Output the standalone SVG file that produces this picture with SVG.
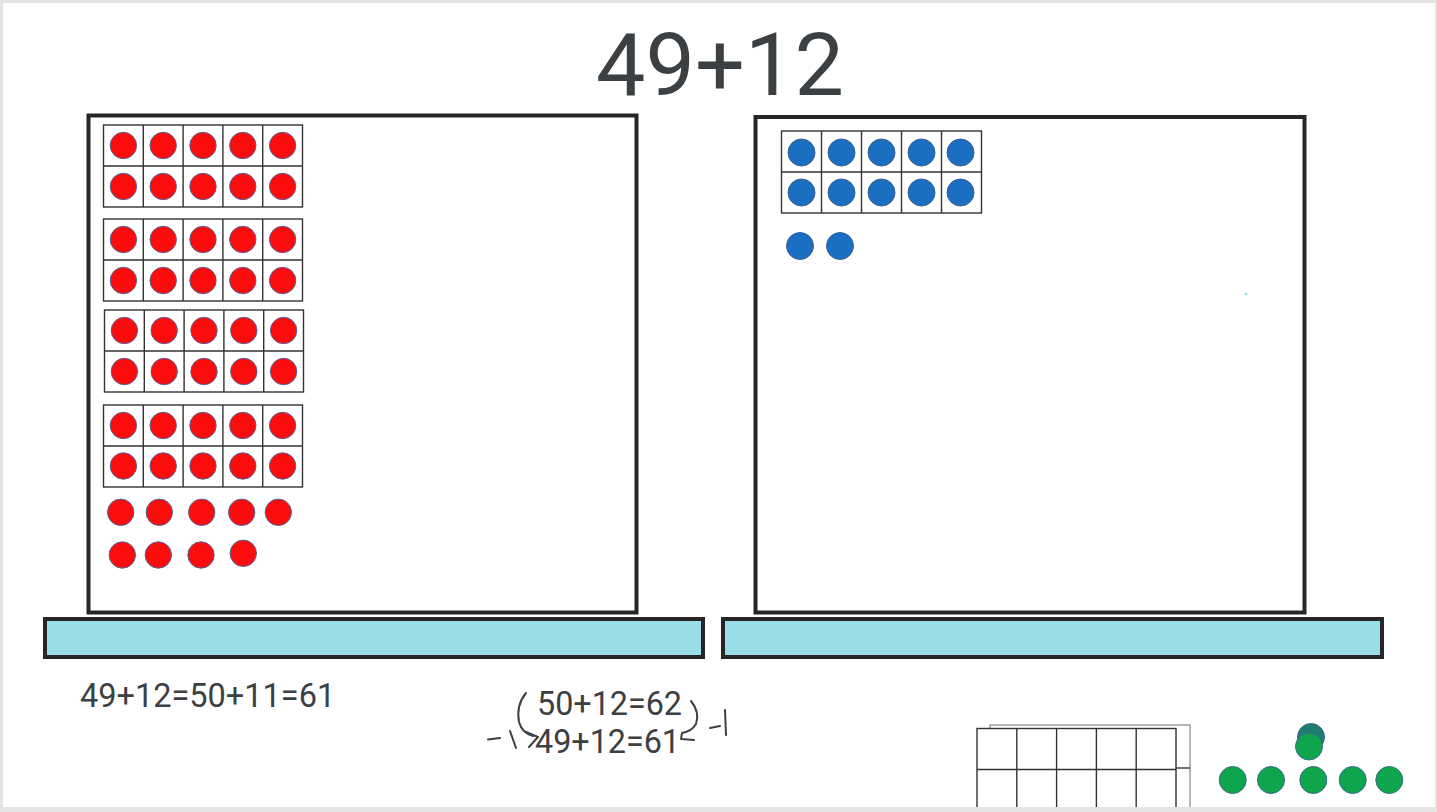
<svg xmlns="http://www.w3.org/2000/svg" xmlns:xlink="http://www.w3.org/1999/xlink" width="1437" height="812" viewBox="0 0 1437 812">
<style>
.txt{font-family:Roboto,"Liberation Sans",sans-serif;fill:#3c4043}
.box{fill:#fff;stroke:#262626;stroke-width:4}
.bar{fill:#99dde6;stroke:#262626;stroke-width:4}
.tf{fill:#fff;stroke:#333;stroke-width:1.4}
.tl{stroke:#333;stroke-width:1.4;fill:none}
.red{fill:#fb0d0d;stroke:#56609a;stroke-width:1}
.blue{fill:#1a6fc2;stroke:#3d5f98;stroke-width:1}
.green{fill:#0fa54c;stroke:#3a6a8a;stroke-width:1}
.hand{fill:none;stroke:#3c4043;stroke-width:2;stroke-linecap:round;stroke-linejoin:round}
</style>
<defs>
<g id="tf10">
<rect class="tf" x="0" y="0" width="199" height="82"/>
<path class="tl" d="M0 41H199M39.8 0V82M79.6 0V82M119.4 0V82M159.2 0V82"/>
</g>
<circle id="rd" class="red" r="13.2"/>
<circle id="bd" class="blue" r="13.5"/>
<circle id="gd" class="green" r="13.5"/>
</defs>
<rect x="0" y="0" width="1437" height="812" fill="#e3e4e6"/>
<rect x="3" y="3" width="1432" height="804" fill="#fff"/>

<g id="title"><text class="txt" x="720" y="95" font-size="88" text-anchor="middle">49+12</text></g>

<g id="left-board">
<rect class="box" x="88.5" y="115.5" width="548" height="497"/>
<rect class="bar" x="45" y="619" width="658" height="38"/>
</g>
<g id="right-board">
<rect class="box" x="755.5" y="117" width="549" height="495.5"/>
<rect class="bar" x="723" y="619" width="659" height="38"/>
<circle cx="1246" cy="294" r="1.2" fill="#7fd6e6"/>
</g>

<g id="red-frame-1">
<use xlink:href="#tf10" x="103.5" y="125"/>
<use xlink:href="#rd" x="123.4" y="145.5"/><use xlink:href="#rd" x="163.2" y="145.5"/><use xlink:href="#rd" x="203" y="145.5"/><use xlink:href="#rd" x="242.8" y="145.5"/><use xlink:href="#rd" x="282.6" y="145.5"/>
<use xlink:href="#rd" x="123.4" y="186.5"/><use xlink:href="#rd" x="163.2" y="186.5"/><use xlink:href="#rd" x="203" y="186.5"/><use xlink:href="#rd" x="242.8" y="186.5"/><use xlink:href="#rd" x="282.6" y="186.5"/>
</g>
<g id="red-frame-2">
<use xlink:href="#tf10" x="103.5" y="219"/>
<use xlink:href="#rd" x="123.4" y="239.5"/><use xlink:href="#rd" x="163.2" y="239.5"/><use xlink:href="#rd" x="203" y="239.5"/><use xlink:href="#rd" x="242.8" y="239.5"/><use xlink:href="#rd" x="282.6" y="239.5"/>
<use xlink:href="#rd" x="123.4" y="280.5"/><use xlink:href="#rd" x="163.2" y="280.5"/><use xlink:href="#rd" x="203" y="280.5"/><use xlink:href="#rd" x="242.8" y="280.5"/><use xlink:href="#rd" x="282.6" y="280.5"/>
</g>
<g id="red-frame-3">
<use xlink:href="#tf10" x="104.5" y="310"/>
<use xlink:href="#rd" x="124.4" y="330.5"/><use xlink:href="#rd" x="164.2" y="330.5"/><use xlink:href="#rd" x="204" y="330.5"/><use xlink:href="#rd" x="243.8" y="330.5"/><use xlink:href="#rd" x="283.6" y="330.5"/>
<use xlink:href="#rd" x="124.4" y="371.5"/><use xlink:href="#rd" x="164.2" y="371.5"/><use xlink:href="#rd" x="204" y="371.5"/><use xlink:href="#rd" x="243.8" y="371.5"/><use xlink:href="#rd" x="283.6" y="371.5"/>
</g>
<g id="red-frame-4">
<use xlink:href="#tf10" x="103.5" y="405"/>
<use xlink:href="#rd" x="123.4" y="425.5"/><use xlink:href="#rd" x="163.2" y="425.5"/><use xlink:href="#rd" x="203" y="425.5"/><use xlink:href="#rd" x="242.8" y="425.5"/><use xlink:href="#rd" x="282.6" y="425.5"/>
<use xlink:href="#rd" x="123.4" y="466"/><use xlink:href="#rd" x="163.2" y="466"/><use xlink:href="#rd" x="203" y="466"/><use xlink:href="#rd" x="242.8" y="466"/><use xlink:href="#rd" x="282.6" y="466"/>
</g>
<g id="red-loose">
<use xlink:href="#rd" x="120.7" y="512.3"/><use xlink:href="#rd" x="159.3" y="512.3"/><use xlink:href="#rd" x="201.7" y="512.3"/><use xlink:href="#rd" x="241.7" y="512.3"/><use xlink:href="#rd" x="278.3" y="512.3"/>
<use xlink:href="#rd" x="122.3" y="555"/><use xlink:href="#rd" x="158.3" y="555"/><use xlink:href="#rd" x="201" y="555"/><use xlink:href="#rd" x="243.3" y="553.3"/>
</g>

<g id="blue-frame">
<rect class="tf" x="781.5" y="131" width="200" height="82"/>
<path class="tl" d="M781.5 172H981.5M821.5 131V213M861.5 131V213M901.5 131V213M941.5 131V213"/>
<use xlink:href="#bd" x="801.5" y="152.5"/><use xlink:href="#bd" x="841.5" y="152.5"/><use xlink:href="#bd" x="881.5" y="152.5"/><use xlink:href="#bd" x="921.5" y="152.5"/><use xlink:href="#bd" x="960.5" y="152.5"/>
<use xlink:href="#bd" x="801.5" y="192.5"/><use xlink:href="#bd" x="841.5" y="192.5"/><use xlink:href="#bd" x="881.5" y="192.5"/><use xlink:href="#bd" x="921.5" y="192.5"/><use xlink:href="#bd" x="960.5" y="192.5"/>
</g>
<g id="blue-loose">
<use xlink:href="#bd" x="800" y="246"/><use xlink:href="#bd" x="840" y="246"/>
</g>

<g id="equation-1"><text class="txt" x="80" y="707" font-size="32.5">49+12=50+11=61</text></g>

<g id="equation-2">
<text class="txt" x="537" y="715" font-size="32.3">50+12=62</text>
<text class="txt" x="535" y="753" font-size="32.3">49+12=61</text>
</g>
<g id="connectors">
<path class="hand" d="M488 739.5L500 738"/>
<path class="hand" d="M510 731L516 748"/>
<path class="hand" d="M526 693Q516 705 519 722Q522 733 533 736"/>
<path class="hand" d="M526 732L538 737L529 747"/>
<path class="hand" d="M691 701Q700 712 696 724Q692 731 682 733L681 739L694 740"/>
<path class="hand" d="M710 728L720 726"/>
<path class="hand" d="M725 710L726 735"/>
</g>

<g id="empty-frame">
<rect x="990" y="725" width="200" height="90" fill="#fff" stroke="#999" stroke-width="1.4"/>
<path class="tl" d="M1176 768H1190"/>
<rect class="tf" x="977" y="728.5" width="199" height="90"/>
<path class="tl" d="M977 769.5H1176M1016.8 728.5V812M1056.6 728.5V812M1096.4 728.5V812M1136.2 728.5V812"/>
</g>
<rect x="0" y="807" width="1437" height="5" fill="#e3e4e6"/>

<g id="green-counters">
<circle cx="1311" cy="737" r="13.5" fill="#1f7a70" stroke="#3a6a8a" stroke-width="1"/>
<use xlink:href="#gd" x="1309" y="746.5"/>
<use xlink:href="#gd" x="1232.7" y="780"/><use xlink:href="#gd" x="1271" y="780"/><use xlink:href="#gd" x="1313.3" y="780"/><use xlink:href="#gd" x="1352.7" y="780"/><use xlink:href="#gd" x="1389.3" y="780"/>
</g>
</svg>
